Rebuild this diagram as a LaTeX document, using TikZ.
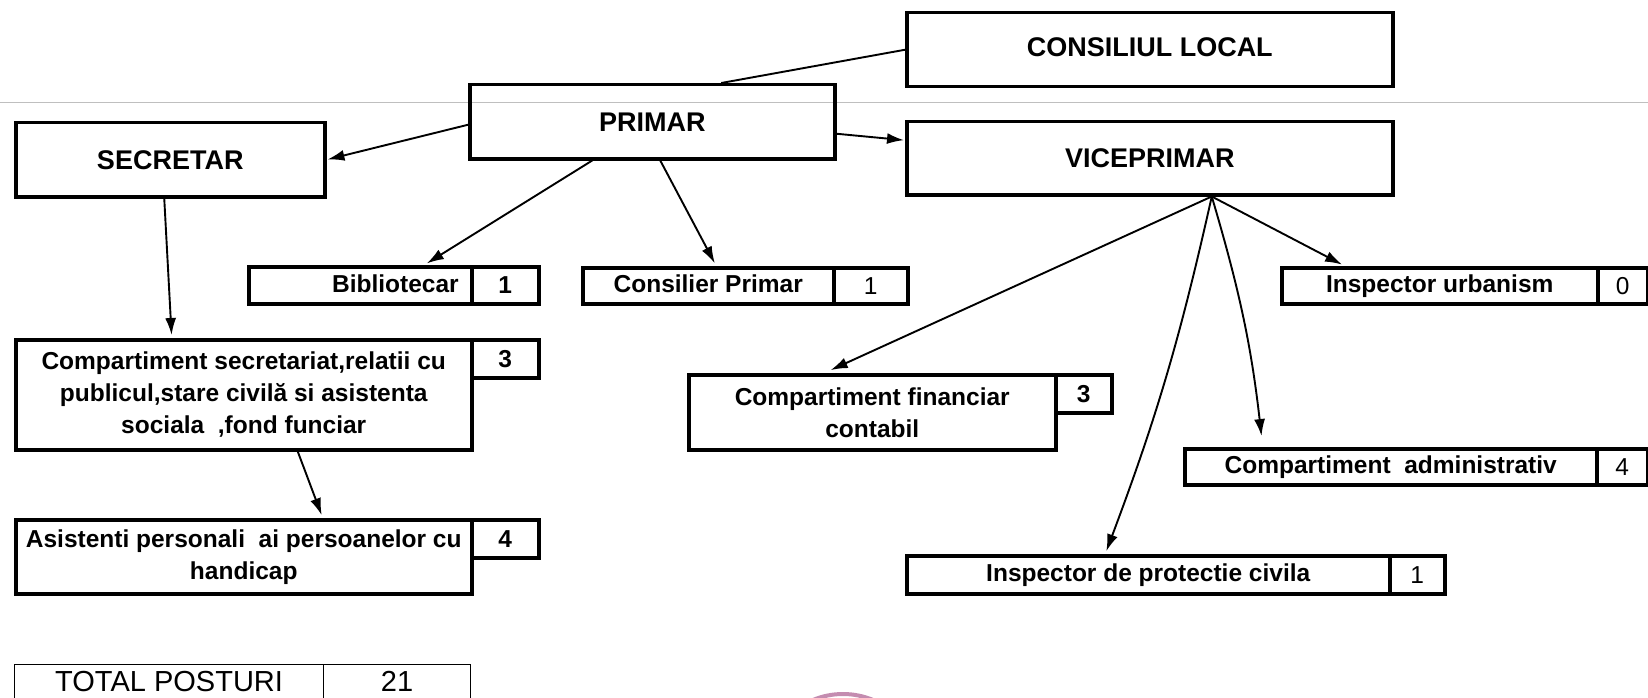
\documentclass[tikz,border=0pt]{standalone}
\usepackage{fontspec}
\setmainfont{Liberation Sans}
\usetikzlibrary{arrows.meta,calc}
\definecolor{stamp}{RGB}{196,140,176}
\tikzset{
  bx/.style={draw, line width=3.5pt, inner sep=0pt, anchor=north west, align=center},
  ttl/.style={bx, font=\fontsize{27}{32}\selectfont\bfseries},
  sml/.style={bx, font=\fontsize{24.5}{32}\selectfont\bfseries},
  one/.style={text height=17pt, text depth=3pt},
  numb/.style={bx, font=\fontsize{24.5}{32}\selectfont\bfseries},
  numr/.style={bx, font=\fontsize{24.5}{32}\selectfont},
  thin/.style={draw, line width=1.2pt, inner sep=0pt, anchor=north west, font=\fontsize{29}{34}\selectfont},
  con/.style={line width=1.9pt},
  arr/.style={con, -{Latex[length=17pt,width=11pt]}, shorten >=3pt}
}
\begin{document}
\begin{tikzpicture}[x=1pt,y=-1pt]
\useasboundingbox (0,0) rectangle (1648,698);
\fill[white] (0,0) rectangle (1648,698);
% faint scan line
\coordinate (sl) at (0,102);
\coordinate (sr) at (1648,102);
\draw[gray!50, line width=0.8pt] (sl) -- (sr);
% stamp edge
\draw[stamp, line width=4pt] (843,772) circle[radius=78];

\node[ttl, minimum width=486pt, minimum height=74pt, text height=24pt, text depth=10pt] (cl) at (905,11) {CONSILIUL LOCAL};
\node[ttl, minimum width=365pt, minimum height=74pt] (primar) at (468,83) {PRIMAR};
\node[ttl, minimum width=309pt, minimum height=74pt] (secretar) at (14,121) {SECRETAR};
\node[ttl, minimum width=486pt, minimum height=73pt] (vice) at (905,120) {VICEPRIMAR};

\node[sml, one, minimum width=223pt, minimum height=37pt, text width=197pt, align=right] (bib) at (247,265) {Bibliotecar};
\node[numb, minimum width=67pt, minimum height=37pt] (bibn) at (470,265) {1};
\node[sml, one, minimum width=251pt, minimum height=36pt] (cons) at (581,266) {Consilier Primar};
\node[numr, minimum width=74pt, minimum height=36pt] (consn) at (832,266) {1};
\node[sml, one, minimum width=316pt, minimum height=36pt] (urb) at (1280,266) {Inspector urbanism};
\node[numr, minimum width=50pt, minimum height=36pt] (urbn) at (1596,266) {0};

\node[sml, minimum width=456pt, minimum height=110pt] (sec) at (14,338) {Compartiment secretariat,relatii cu\\publicul,stare civilă si asistenta\\sociala\ \ ,fond funciar};
\node[numb, minimum width=67pt, minimum height=38pt] (secn) at (470,338) {3};
\node[sml, minimum width=456pt, minimum height=74pt] (asi) at (14,518) {Asistenti personali\ \ ai persoanelor cu\\handicap};
\node[numb, minimum width=67pt, minimum height=38pt] (asin) at (470,518) {4};

\node[sml, minimum width=367pt, minimum height=75pt] (fin) at (687,373) {Compartiment financiar\\contabil};
\node[numb, minimum width=56pt, minimum height=38pt] (finn) at (1054,373) {3};
\node[sml, one, minimum width=412pt, minimum height=36pt] (adm) at (1183,447) {Compartiment\ \ administrativ};
\node[numr, minimum width=51pt, minimum height=36pt] (admn) at (1595,447) {4};
\node[sml, one, minimum width=483pt, minimum height=38pt] (prot) at (905,554) {Inspector de protectie civila};
\node[numr, minimum width=55pt, minimum height=38pt] (protn) at (1388,554) {1};

\node[thin, minimum width=309pt, minimum height=50pt, text depth=16pt] (tot) at (14,664) {TOTAL POSTURI};
\node[thin, minimum width=147pt, minimum height=50pt, text depth=16pt] (totn) at (323,664) {21};

% connectors
\draw[con] (cl.west) -- ([xshift=69pt]primar.north);
\draw[arr, shorten >=1pt] ([yshift=-3pt]primar.west) -- (secretar.east);
\draw[arr, shorten >=1pt] ([yshift=-12pt]primar.east) -- ([yshift=18pt]vice.west);
\draw[arr] ([xshift=-60pt]primar.south) -- ([xshift=64pt]bib.north);
\draw[arr] ([xshift=8pt]primar.south) -- ([xshift=8pt]cons.north);
\draw[arr] ([xshift=-6pt]secretar.south) -- ([xshift=-72pt]sec.north);
\draw[arr] ([xshift=54pt]sec.south) -- ([xshift=79pt]asi.north);
\coordinate (vb) at ([xshift=62pt]vice.south);
\draw[arr, shorten >=7pt] (vb) -- ([xshift=-48pt]fin.north);
\draw[arr] (vb) to[bend left=4] ([xshift=-43pt]prot.north);
\draw[arr, shorten >=11pt] (vb) to[bend left=5] ([xshift=-128pt]adm.north);
\draw[arr] (vb) -- ([xshift=-95pt]urb.north);
\end{tikzpicture}
\end{document}
